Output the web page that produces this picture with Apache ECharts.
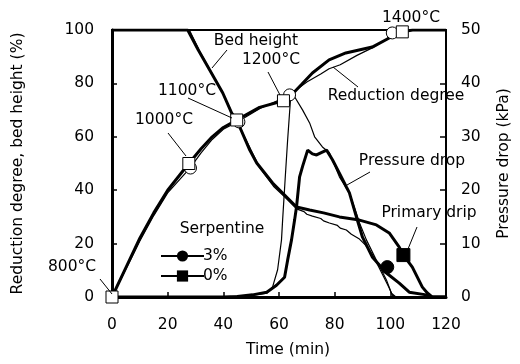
<!DOCTYPE html>
<html lang="en">
<head>
  <meta charset="UTF-8">
  <script src="https://cdn.jsdelivr.net/npm/echarts@6/dist/echarts.min.js"></script>
  <title>Reduction degree, bed height and pressure drop</title>
  <style>
    html, body { margin: 0; padding: 0; background: #fff; }
    #main { width: 520px; height: 364px; }
  </style>
</head>
<body>
  <div id="main"></div>
  <script>
    // Reduction degree (%), left axis
    var reduction0 = [[0,0],[5,11],[10,22],[15,31.5],[20,40],[27.6,50],[32,55.5],[36,60],[40,63.5],[44.8,66.3],[53,71],[61.6,73.5],[63.8,74.9],[68,79.5],[72,83.9],[78,88.8],[84,91.4],[93.5,93.6],[99.6,97],[104.3,99.3],[108,100],[120,100]];
    var reduction3 = [[0,0],[5,10.5],[10,21],[15,30.5],[20,39],[28,48.3],[32,54],[36,59],[40,62.8],[45.5,65.8],[53,70.5],[60,73.8],[63.8,75.7],[70,80.5],[75,83.5],[78,85.5],[82,87],[88,90.5],[93.5,93.3],[98.6,96.5],[100.7,98.9],[104,100],[120,100]];

    // Bed height (%), left axis
    var bed0 = [[0,100],[27.2,100],[31,92.5],[35.1,85],[39.8,76.4],[43,68.9],[44.8,66.3],[49.5,55],[52,50.2],[57.7,42.7],[62,38.2],[66.3,33.7],[71,32.6],[76,31.5],[81.7,30],[88.9,28.8],[95,27],[99.6,24],[103.2,18.7],[104.7,15.7],[107.9,11.2],[111.5,3.7],[113.3,1.5],[115,0],[120,0]];
    var bed3 = [[0,100],[27.8,100],[31.5,92],[35.5,84.5],[40,76],[43.5,68],[45.5,64.5],[50,55],[53,48.5],[58,41.5],[62,37.5],[66.3,33],[69,32],[70,31],[72,30.3],[75,29.4],[76,28.5],[78.1,27.7],[81,26.8],[82,25.8],[84.2,25.1],[86,23.5],[88.9,21.7],[91,19.5],[93.5,16.1],[97.1,8.6],[99.6,3.4],[100.7,0.7],[102,0],[120,0]];

    // Pressure drop (kPa), right axis
    var drop0 = [[0,0],[40,0],[45,0.1],[50.5,0.4],[55.6,0.9],[59.1,2.2],[62,3.7],[63.1,6.9],[64.5,10.7],[65.6,14.4],[66.3,16.9],[67.4,22.5],[68.5,24.5],[70.3,27.5],[72,26.8],[73.5,26.6],[75,27],[77.1,27.5],[79.2,25.7],[81.7,23.2],[84.2,20.6],[85.3,19.5],[87.8,15],[90,11.2],[93.5,7.5],[98.6,4.5],[103.2,2.6],[106.8,0.9],[112.9,0.4],[115,0],[120,0]];
    var drop3 = [[0,0],[40,0],[50,0.3],[55.6,0.7],[57.7,1.9],[59.5,5.1],[60.9,10.7],[61.3,14.4],[62.2,22],[63.1,29.4],[64.2,37.5],[65.6,37.5],[68.5,35],[71,32.6],[72.8,30],[75.6,28.1],[78.1,27],[81.7,22.5],[85.3,19.5],[87.8,15.7],[88.9,13.9],[91.4,10.7],[95,6.9],[98.6,3.2],[100.4,0.7],[102,0],[120,0]];

    // temperature marks on the reduction curves
    var tempSquares = [[0,0],[27.6,50],[44.8,66.3],[61.6,73.5],[104.3,99.3]];
    var tempCircles = [[28.2,48.3],[45.6,65.6],[63.8,75.7],[100.7,98.9]];
    // primary drip
    var dripSquare = [[104.7,15.7]];
    var dripCircle = [[98.9,11.2]];

    var xTicks = { min: 0, max: 120, step: 20 };
    var leftTicks = { min: 0, max: 100, step: 20 };
    var rightTicks = { min: 0, max: 50, step: 10 };

    // annotation texts: [text, cx, cy] and leader lines [x1, y1, x2, y2] (pixels)
    var notes = [
      ['800°C', 72, 267], ['1000°C', 164, 120], ['1100°C', 187, 91], ['1200°C', 271, 60],
      ['Bed height', 256, 41], ['1400°C', 411, 18], ['Reduction degree', 396, 96],
      ['Pressure drop', 412, 161], ['Primary drip', 429, 213], ['Serpentine', 222, 229]
    ];
    var leaders = [
      [100, 279, 112, 294], [168, 133, 186, 156], [188, 98, 232, 118], [268, 72, 280, 95],
      [227, 50, 212, 68], [358, 87, 333, 67], [370, 172, 347, 185], [417, 227, 408, 249]
    ];

    var font = '"DejaVu Sans", sans-serif';
    var fs = 15.5;
    var chart = echarts.init(document.getElementById('main'));

    function lineSeries(data, width, axis) {
      return {
        type: 'line', data: data, yAxisIndex: axis, showSymbol: false, symbol: 'none',
        silent: true, z: 2,
        lineStyle: { color: '#000', width: width }
      };
    }
    function markSeries(data, symbol, size, fill, z) {
      return {
        type: 'scatter', data: data, symbol: symbol, symbolSize: size, z: z, silent: true,
        itemStyle: { color: fill, borderColor: '#000', borderWidth: 1, opacity: 1 }
      };
    }

    var graphics = [];
    leaders.forEach(function (l) {
      graphics.push({ type: 'line', silent: true, z: 100,
        shape: { x1: l[0], y1: l[1], x2: l[2], y2: l[3] },
        style: { stroke: '#000', lineWidth: 1 } });
    });
    notes.forEach(function (n) {
      graphics.push({ type: 'text', x: n[1], y: n[2], silent: true, z: 100,
        style: { text: n[0], font: fs + 'px ' + font, fill: '#000', align: 'center', verticalAlign: 'middle' } });
    });

    var axisLabel = { color: '#000', fontSize: fs, fontFamily: font };
    var nameStyle = { color: '#000', fontSize: fs, fontFamily: font };

    chart.setOption({
      animation: false,
      textStyle: { fontFamily: font },
      grid: { left: 112, right: 73, top: 30, bottom: 67, show: true, borderColor: '#000', borderWidth: 2 },
      legend: {
        data: ['3%', '0%'], left: 155, top: 243, orient: 'vertical',
        itemWidth: 43, itemHeight: 14, itemGap: 4, selectedMode: false,
        textStyle: { color: '#000', fontSize: fs, fontFamily: font, padding: [0, 0, 0, -6] }
      },
      xAxis: {
        type: 'value', min: xTicks.min, max: xTicks.max, interval: xTicks.step,
        name: 'Time (min)', nameLocation: 'middle', nameGap: 45,
        nameTextStyle: Object.assign({ padding: [0, 0, 0, 18] }, nameStyle),
        axisLine: { lineStyle: { color: '#000', width: 3 } },
        axisTick: { inside: true, length: 5, lineStyle: { color: '#000', width: 1.5 } },
        axisLabel: Object.assign({ margin: 20 }, axisLabel),
        splitLine: { show: false }
      },
      yAxis: [
        {
          type: 'value', min: leftTicks.min, max: leftTicks.max, interval: leftTicks.step,
          name: 'Reduction degree, bed height (%)', nameLocation: 'middle', nameGap: 86, nameRotate: 90,
          nameTextStyle: nameStyle,
          axisLine: { show: true, lineStyle: { color: '#000', width: 3 } },
          axisTick: { show: true, inside: true, length: 5, lineStyle: { color: '#000', width: 1.5 } },
          axisLabel: Object.assign({ margin: 18 }, axisLabel),
          splitLine: { show: false }
        },
        {
          type: 'value', position: 'right', min: rightTicks.min, max: rightTicks.max, interval: rightTicks.step,
          name: 'Pressure drop (kPa)', nameLocation: 'middle', nameGap: 50, nameRotate: 90,
          nameTextStyle: nameStyle,
          axisLine: { show: true, lineStyle: { color: '#000', width: 2 } },
          axisTick: { show: true, inside: true, length: 6, lineStyle: { color: '#000', width: 1.5 } },
          axisLabel: Object.assign({ margin: 15 }, axisLabel),
          splitLine: { show: false }
        }
      ],
      series: [
        // legend-only entries
        { name: '3%', type: 'line', data: [], symbol: 'circle', symbolSize: 13,
          itemStyle: { color: '#000' }, lineStyle: { color: '#000', width: 1.5 } },
        { name: '0%', type: 'line', data: [], symbol: 'rect', symbolSize: 13,
          itemStyle: { color: '#000' }, lineStyle: { color: '#000', width: 3 } },

        lineSeries(reduction3, 1.2, 0),
        lineSeries(reduction0, 3, 0),
        lineSeries(bed3, 1.2, 0),
        lineSeries(bed0, 3, 0),
        lineSeries(drop3, 1.2, 1),
        lineSeries(drop0, 3, 1),

        markSeries(tempCircles, 'circle', 12, '#fff', 5),
        markSeries(tempSquares, 'rect', 12, '#fff', 6),
        markSeries(dripCircle, 'circle', 13, '#000', 6),
        markSeries(dripSquare, 'rect', 13, '#000', 6)
      ],
      graphic: graphics
    });
  </script>
</body>
</html>
